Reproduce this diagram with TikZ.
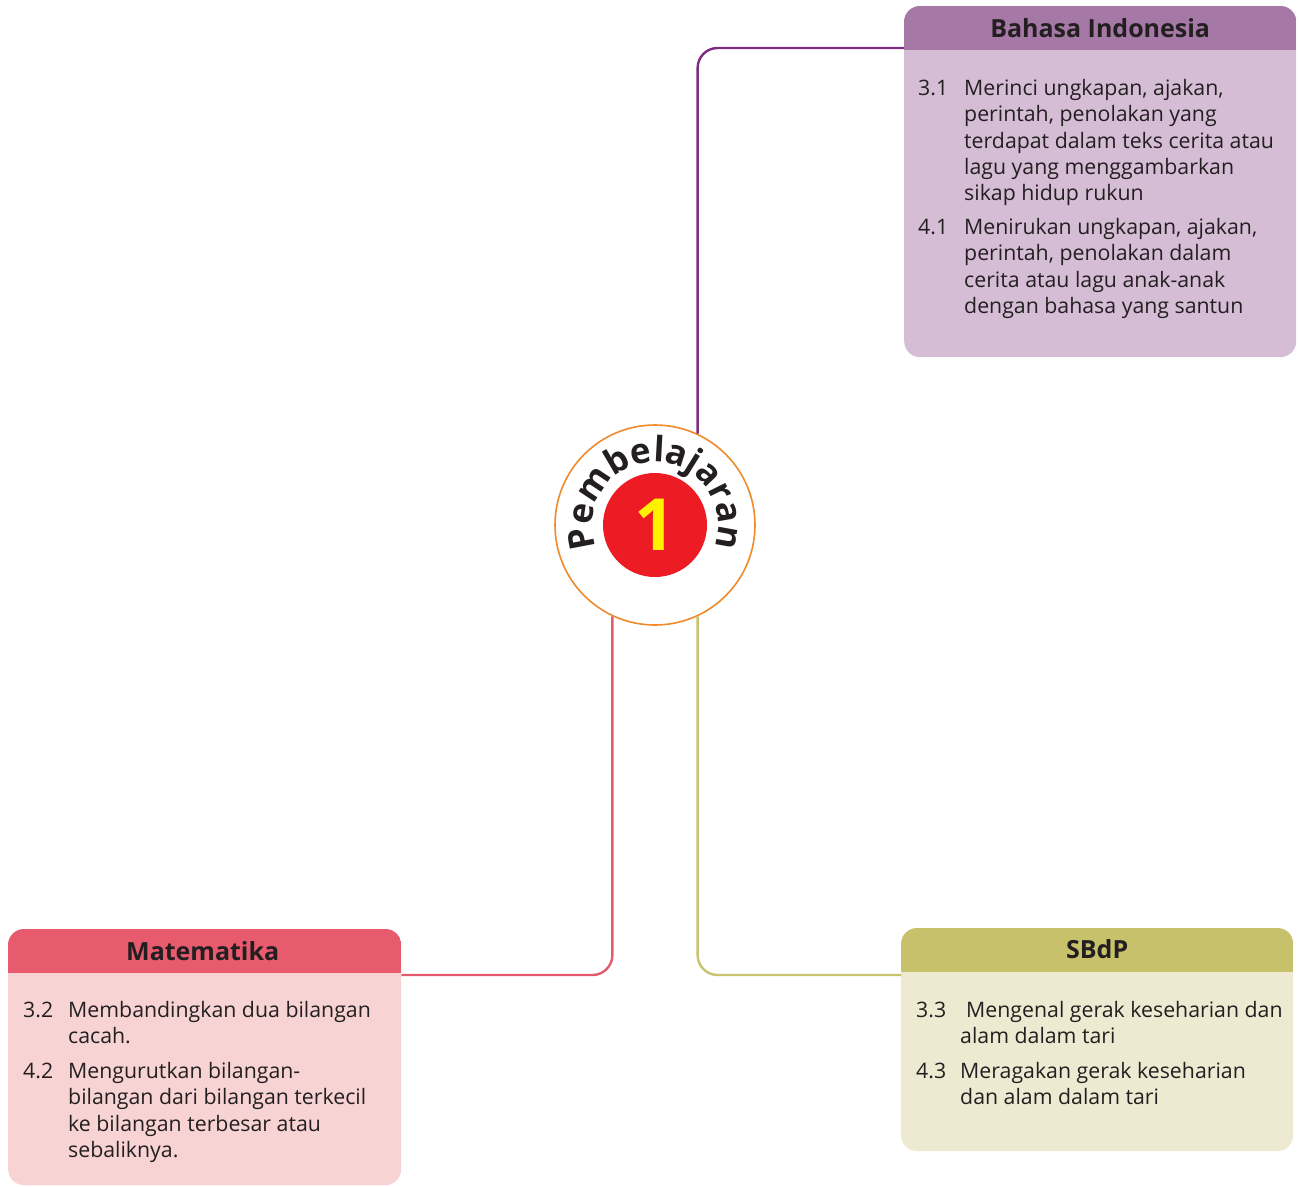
\documentclass[tikz,border=0pt]{standalone}
\usepackage{fontspec}
\setmainfont{Open Sans}
\usetikzlibrary{decorations.text}
\definecolor{txt}{HTML}{231F20}
\definecolor{biHead}{HTML}{A678A6}
\definecolor{biBody}{HTML}{D5BDD6}
\definecolor{biLine}{HTML}{7E2C83}
\definecolor{mtHead}{HTML}{E85A6E}
\definecolor{mtBody}{HTML}{F8D3D3}
\definecolor{mtLine}{HTML}{E35C6E}
\definecolor{sbHead}{HTML}{C6C16A}
\definecolor{sbBody}{HTML}{EEEAD2}
\definecolor{sbLine}{HTML}{C8C36E}
\definecolor{ringOrange}{HTML}{F08A2A}
\definecolor{discRed}{HTML}{ED1C24}
\definecolor{oneYellow}{HTML}{FFF200}
\tikzset{
  box/.style={rectangle, rounded corners=16, inner sep=0, draw=none, anchor=north west},
  hdr/.style={inner sep=0, text=txt, font=\fontsize{25}{25}\selectfont\bfseries},
  item/.style={anchor=north west, inner sep=0, align=left, text=txt, font=\fontsize{21.3}{26.3}\selectfont},
  conn/.style={line width=2.4, rounded corners=20}
}
\begin{document}
\begin{tikzpicture}[x=1pt,y=1pt]
\useasboundingbox (0,0) rectangle (1300,-1186);

% boxes
\node[box, fill=biBody, minimum width=392, minimum height=351] (bi) at (904,-6) {};
\node[box, fill=mtBody, minimum width=393, minimum height=256] (mt) at (8,-929) {};
\node[box, fill=sbBody, minimum width=392, minimum height=223] (sb) at (901,-928) {};

\begin{scope}
\clip[rounded corners=16] (bi.south west) rectangle (bi.north east);
\fill[biHead] (bi.north west) rectangle ([yshift=-44]bi.north east);
\end{scope}
\begin{scope}
\clip[rounded corners=16] (mt.south west) rectangle (mt.north east);
\fill[mtHead] (mt.north west) rectangle ([yshift=-44]mt.north east);
\end{scope}
\begin{scope}
\clip[rounded corners=16] (sb.south west) rectangle (sb.north east);
\fill[sbHead] (sb.north west) rectangle ([yshift=-44]sb.north east);
\end{scope}

\node[hdr] (bih) at ([yshift=-22]bi.north) {Bahasa Indonesia};
\node[hdr] (mth) at ([xshift=-2,yshift=-22]mt.north) {Matematika};
\node[hdr] (sbh) at ([yshift=-21]sb.north) {SBdP};

% centre
\node[circle, draw=ringOrange, line width=1.6, fill=white, minimum size=200, inner sep=0] (c) at (655,-525) {};
\node[circle, fill=discRed, minimum size=104, inner sep=0, text=oneYellow,
      font=\fontsize{72}{72}\selectfont\bfseries] (r) at (c.center) {1};
\path[decorate, decoration={text along path,
      text={|\fontsize{35}{35}\selectfont\bfseries|Pembelajaran},
      text color=txt, text align={center}}]
  (c.center) ++(204:63) arc[start angle=204, end angle=-24, radius=63];

% connectors
\draw[conn, biLine] ([yshift=-42]bi.north west) -| (c.65);
\draw[conn, mtLine] ([yshift=-46]mt.north east) -| (c.245);
\draw[conn, sbLine] ([yshift=-47]sb.north west) -| (c.295);

% Bahasa Indonesia items
\node[item] (n31) at (918,-77) {\strut 3.1};
\node[item] (t31) at (964,-77) {\strut Merinci ungkapan, ajakan,\\perintah, penolakan yang\\terdapat dalam teks cerita atau\\lagu yang menggambarkan\\sikap hidup rukun};
\node[item] (n41) at (918,-216) {\strut 4.1};
\node[item] (t41) at (964,-216) {\strut Menirukan ungkapan, ajakan,\\perintah, penolakan dalam\\cerita atau lagu anak-anak\\dengan bahasa yang santun};

% Matematika items
\node[item] (n32) at (23,-999) {\strut 3.2};
\node[item] (t32) at (68,-999) {\strut Membandingkan dua bilangan\\cacah.};
\node[item] (n42) at (23,-1060) {\strut 4.2};
\node[item] (t42) at (68,-1060) {\strut Mengurutkan bilangan-\\bilangan dari bilangan terkecil\\ke bilangan terbesar atau\\sebaliknya.};

% SBdP items
\node[item] (n33) at (916,-999) {\strut 3.3};
\node[item] (t33) at (960,-999) {\strut\hspace{6pt}Mengenal gerak keseharian dan\\alam dalam tari};
\node[item] (n43) at (916,-1060) {\strut 4.3};
\node[item] (t43) at (960,-1060) {\strut Meragakan gerak keseharian\\dan alam dalam tari};
\end{tikzpicture}
\end{document}
